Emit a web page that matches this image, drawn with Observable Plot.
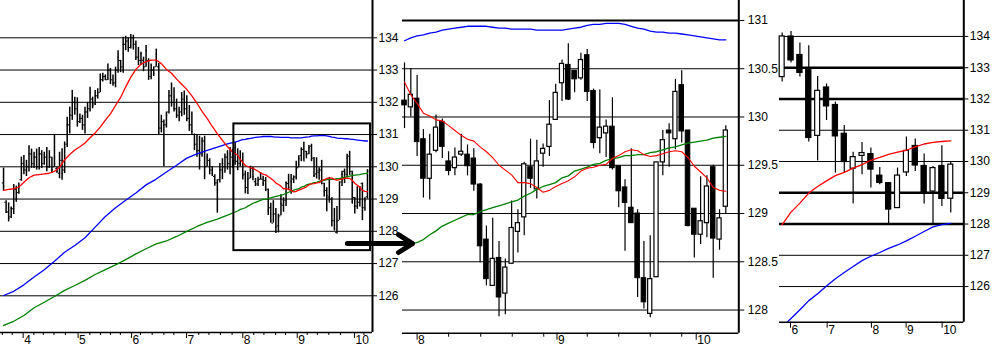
<!DOCTYPE html>
<html><head><meta charset="utf-8">
<script src="https://cdn.jsdelivr.net/npm/d3@7"></script>
<script src="https://cdn.jsdelivr.net/npm/@observablehq/plot@0.6"></script>
<style>
body{margin:0;background:#fff;}
#wrap{position:relative;width:997px;height:352px;overflow:hidden;background:#fff;}
#wrap svg{position:absolute;top:0;}
</style></head><body><div id="wrap"></div>
<script>
// ---------- DATA ----------
// Daily bars before the zoomed window, [open, high, low, close]
const earlyBars = [
[129.5,129.96,129.27,129.4],[128.9,128.95,128.55,128.6],[128.6,128.88,128.29,128.4],[128.45,128.75,128.40,128.7],
[128.7,129.45,128.52,129.3],[129.3,129.40,128.90,129.0],[129.2,129.50,129.15,129.4],[129.6,130.30,129.55,130.1],
[130.1,130.35,129.75,129.9],[129.9,130.20,129.70,130.0],[130.0,130.65,129.84,130.4],[130.4,130.55,129.95,130.1],
[130.1,130.45,129.95,130.3],[130.3,130.55,129.90,130.0],[130.0,130.60,129.90,130.4],[130.4,130.50,129.95,130.1],
[130.1,130.45,130.05,130.3],[130.3,130.60,129.85,130.0],[130.0,130.50,129.95,130.3],[130.3,130.30,129.80,129.9],
[130.0,130.97,129.99,130.1],[129.95,129.99,129.80,129.85],[129.8,130.45,129.63,130.2],[130.2,130.56,129.58,129.8],
[129.9,130.77,129.79,130.6],[130.7,131.54,130.60,131.3],[131.3,131.85,131.02,131.6],[131.6,132.37,131.44,132.1],
[132.0,132.16,131.60,131.8],[131.8,132.14,131.23,131.4],[131.4,131.64,131.34,131.5],[131.5,131.60,131.13,131.3],
[131.3,131.85,131.02,131.7],[131.7,132.00,131.50,131.8],[131.8,132.47,131.70,132.3],[132.1,132.16,131.80,131.9],
[131.95,132.37,131.90,132.2],[132.2,132.42,132.10,132.3],[132.3,132.88,132.30,132.7],[132.7,132.90,132.63,132.8],
[132.8,132.85,132.68,132.7],[132.7,133.19,132.68,133.0],[133.0,133.05,132.55,132.7],[132.7,132.85,132.50,132.6],
[132.6,133.09,132.45,133.0],[133.0,133.60,132.90,133.4],[133.3,133.30,132.92,133.1],[133.1,134.02,132.90,133.8],
[133.8,134.05,133.60,133.9],[133.9,134.00,133.55,133.7],[133.7,134.10,133.65,134.0],[134.0,134.08,133.62,133.8],
[133.8,133.90,133.30,133.4],[133.4,133.70,133.14,133.3],[133.3,133.55,133.14,133.5],[133.3,133.40,132.95,133.1],
[133.1,133.76,133.09,133.6],[133.3,133.35,132.68,132.8],[132.8,133.19,132.70,133.0],[133.0,133.10,132.80,132.9],
[133.1,133.65,133.09,133.5],[133.1,133.20,131.00,131.2],[131.2,131.60,131.05,131.4],[131.4,131.45,130.00,131.3],
[131.3,131.70,131.20,131.6],[131.7,132.37,131.64,132.2],[132.2,132.60,131.85,132.0],[132.0,132.45,131.70,131.8],
[131.8,132.10,131.50,131.6],[131.6,131.85,131.40,131.7],[131.7,132.30,131.55,132.1],[132.1,132.35,131.60,131.8],
[131.8,132.20,131.40,131.5],[131.5,131.90,131.10,131.3],[131.3,131.70,131.00,131.1],[131.0,131.02,130.50,130.7],
[130.7,131.00,130.30,130.5],[130.5,130.95,129.90,130.2],[130.4,130.90,130.30,130.8],[130.8,130.95,129.60,130.0],
[130.0,130.40,130.00,130.3],[130.2,130.25,129.75,129.9],[129.9,130.00,129.70,129.8],[129.7,129.75,129.40,129.5],
[129.5,129.60,128.56,129.3],[129.6,130.10,129.50,129.9],[129.9,130.25,129.60,130.1],[130.0,130.40,129.80,130.3],
[130.3,130.50,129.90,130.1],[130.1,130.60,129.75,130.4],[130.3,130.55,129.95,130.2],[130.2,130.75,130.05,130.6]
];
// Last 52 daily sessions (the zoomed window), [open, high, low, close]
const zoomBars = [
[130.17,130.56,129.88,130.12],[130.10,130.50,130.00,130.23],[130.19,130.43,129.59,129.74],[129.77,129.87,129.16,129.36],
[129.36,129.82,129.14,129.61],[129.65,130.02,129.63,129.89],[129.95,129.98,129.57,129.69],[129.54,129.64,129.39,129.44],
[129.47,129.68,129.39,129.58],[129.61,129.82,129.59,129.64],[129.61,129.71,129.39,129.49],[129.57,129.67,129.23,129.30],
[129.30,129.31,128.49,128.66],[128.73,128.87,128.25,128.32],[128.25,128.95,128.25,128.53],[128.54,128.71,127.93,128.13],
[128.17,128.53,127.95,128.44],[128.48,129.13,128.48,128.85],[128.81,129.04,128.59,128.90],[128.96,129.53,128.77,129.51],
[129.48,129.77,129.26,129.36],[129.25,129.76,129.15,129.54],[129.62,129.72,129.48,129.67],[129.69,130.17,129.59,129.92],
[129.97,130.34,129.97,130.25],[130.35,130.59,130.16,130.55],[130.54,130.76,130.17,130.18],[130.48,130.48,130.25,130.39],
[130.40,130.66,130.38,130.59],[130.64,130.70,130.16,130.26],[130.27,130.29,129.67,129.73],[129.78,130.28,129.62,129.89],
[129.83,129.97,129.58,129.90],[129.90,130.20,129.45,129.47],[129.49,129.49,129.06,129.23],[129.27,129.35,128.61,129.11],
[129.06,129.67,128.90,128.90],[129.00,129.04,128.13,128.33],[128.33,128.71,128.01,128.08],[127.96,128.77,127.92,128.32],
[128.34,129.53,128.34,129.53],[129.53,129.86,129.39,129.76],[129.86,129.93,129.48,129.83],[129.77,130.39,129.66,130.26],
[130.33,130.48,129.73,129.85],[129.86,129.86,128.86,128.87],[129.05,129.05,128.54,128.78],[128.78,129.38,128.68,128.92],
[128.90,129.39,128.75,129.28],[129.48,129.50,128.33,128.74],[128.73,129.04,128.62,128.95],[129.07,129.91,129.00,129.86]
];
// Weekly candles, [open, high, low, close]
const weekBars = [
[132.70,134.11,132.54,134.00],[134.00,134.16,133.15,133.23],[133.41,133.79,132.70,132.83],[132.93,133.70,130.62,130.75],
[130.82,132.72,130.02,132.26],[132.37,132.48,131.31,131.76],[131.81,131.90,129.63,130.80],[130.89,131.15,129.63,129.98],
[129.77,130.30,128.64,130.14],[130.18,130.61,129.58,130.27],[130.24,130.43,129.15,129.74],[129.55,129.81,129.26,129.31],
[129.31,129.31,127.98,128.46],[128.51,129.79,128.51,129.55],[129.65,130.78,129.52,130.34],[130.50,130.72,129.68,129.87],
[129.86,130.24,128.64,128.96],[129.04,129.84,127.98,129.79],[129.86,130.50,128.56,128.80],[128.81,129.98,128.35,129.90]
];
// Moving averages before the zoomed window (read every 2nd / 4th session)
const redEarlyStep = 2;
const redEarly = [129.27,129.30,129.32,129.37,129.52,129.66,129.74,129.76,129.78,129.80,129.86,129.98,130.22,130.38,130.52,130.62,
130.74,130.90,131.05,131.23,131.45,131.64,131.90,132.15,132.48,132.78,133.02,133.18,133.26,133.31,133.31,133.20,133.02,132.90,
132.72,132.56,132.40,132.20,131.97,131.72,131.50,131.25,131.03,130.82,130.62,130.46];
const longEarlyStep = 4;
const blueEarly = [126.01,126.14,126.34,126.58,126.81,127.07,127.35,127.56,127.80,128.13,128.46,128.73,128.96,129.19,129.44,129.62,
129.84,130.05,130.27,130.40,130.51,130.61,130.71];
const greenEarly = [125.08,125.21,125.39,125.63,125.80,125.98,126.17,126.32,126.48,126.66,126.81,126.96,127.12,127.30,127.46,127.61,
127.70,127.84,128.00,128.15,128.28,128.38,128.50];
// Moving averages inside the zoomed window (one per session)
const red2 = [130.36,130.23,130.14,130.04,130.01,129.97,129.96,129.91,129.86,129.81,129.77,129.75,129.69,129.64,129.58,129.50,129.45,
129.40,129.32,129.32,129.31,129.27,129.22,129.24,129.28,129.31,129.34,129.38,129.44,129.47,129.48,129.50,129.51,129.57,129.60,129.64,
129.66,129.65,129.61,129.59,129.60,129.62,129.64,129.65,129.64,129.58,129.49,129.43,129.37,129.27,129.24,129.23];
const green2 = [128.63,128.68,128.70,128.73,128.78,128.82,128.87,128.90,128.93,128.96,128.99,128.99,129.02,129.04,129.06,129.08,129.10,
129.12,129.14,129.18,129.21,129.25,129.28,129.30,129.32,129.37,129.39,129.44,129.46,129.48,129.51,129.52,129.55,129.57,129.58,129.60,
129.60,129.61,129.61,129.63,129.64,129.66,129.68,129.69,129.71,129.73,129.74,129.75,129.76,129.78,129.79,129.80];
const blue2 = [130.79,130.82,130.84,130.85,130.87,130.88,130.90,130.91,130.92,130.93,130.94,130.94,130.94,130.94,130.93,130.92,130.92,
130.91,130.91,130.91,130.91,130.90,130.90,130.90,130.90,130.90,130.91,130.92,130.93,130.95,130.96,130.96,130.97,130.97,130.97,130.96,
130.94,130.92,130.91,130.89,130.88,130.88,130.87,130.87,130.86,130.85,130.84,130.83,130.82,130.81,130.80,130.80];
// Weekly moving averages
const red3 = [127.98,128.38,128.67,128.99,129.20,129.38,129.55,129.65,129.79,129.90,130.04,130.13,130.23,130.30,130.36,130.47,130.56,130.61,130.64,130.66];
const blue3 = [124.71,124.98,125.26,125.55,125.77,126.02,126.25,126.45,126.64,126.83,126.97,127.09,127.22,127.33,127.46,127.61,127.76,127.91,127.98,128.02];

// Axis ticks and labels
const yTicks1 = [126,127,128,129,130,131,132,133,134];
const yTicks2 = [128,128.5,129,129.5,130,130.5,131];
const yTicks3 = [126,127,128,129,130,131,132,133,134];
const thickGrid2 = [131];
const thickGrid3 = [128,129,132,133];
const monthTicks1 = [7.7,29.3,50.3,71.9,94,115.4,137.9];
const monthLabels1 = ["4","5","6","7","8","9","10"];
const minorTicks1 = [-0.5,3.4,11.9,15.6,19.8,24.3,33.9,38.1,42.0,45.9,53.8,58.4,63.0,66.9,76.7,80.7,85.2,89.8,98.3,102.3,106.9,110.8,119.3,123.3,127.8,132.4,141.6];
const monthTicks2 = [2.0,24.2,46.3];
const monthLabels2 = ["8","9","10"];
const minorTicks2 = [7.0,12.1,17.1,22.1,29.0,34.0,39.0,44.0];
const monthTicks3 = [0.94,5.07,10.06,13.97,18.03];
const monthLabels3 = ["6","7","8","9","10"];
// Annotation: zoom box around the last 52 sessions and the arrow to the zoomed panel
const zoomBox = [{x1: 90.5, x2: 144.2, y1: 127.40, y2: 131.33}];
const zoomArrow = [{x1: 135.1, x2: 160.7, y: 127.62}];

// ---------- BUILD ----------
const FONT = "'Liberation Sans', Arial, sans-serif";
const wrap = document.getElementById("wrap");
const row = b => ({o: b[0], h: b[1], l: b[2], c: b[3]});
const zoomStart = earlyBars.length;
const daily = [...earlyBars, ...zoomBars].map((b, k) => ({k, ...row(b)}));
const zoom = zoomBars.map((b, i) => ({i, ...row(b)}));
const week = weekBars.map((b, i) => ({i, ...row(b)}));
const red1 = [...redEarly.map((v, j) => ({k: j * redEarlyStep, v})), ...red2.map((v, i) => ({k: zoomStart + i, v}))];
const blue1 = [...blueEarly.map((v, j) => ({k: j * longEarlyStep, v})), ...blue2.map((v, i) => ({k: zoomStart + i, v}))];
const green1 = [...greenEarly.map((v, j) => ({k: j * longEarlyStep, v})), ...green2.map((v, i) => ({k: zoomStart + i, v}))];
const ser = arr => arr.map((v, i) => ({i, v}));

const baseStyle = {background: "transparent", overflow: "visible", fontFamily: FONT, fontSize: "12px", color: "#000"};

function xTickMarks(monthTicks, monthLabels, minorTicks, majorLen, minorLen, labelDy) {
  return [
    Plot.axisX({ticks: monthTicks, tickSize: majorLen, tickFormat: () => "", label: null, strokeWidth: 1}),
    Plot.axisX({ticks: minorTicks, tickSize: minorLen, tickFormat: () => "", label: null, strokeWidth: 1}),
    Plot.text(monthTicks, {x: d => d, text: (d, i) => monthLabels[i], frameAnchor: "bottom", dy: labelDy, dx: 1, textAnchor: "start", fontSize: 12, fill: "#000"})
  ];
}

// Panel 1: daily OHLC
const xd1 = [-1.2, 144.97], yd1 = [124.862, 135.157];
const p1 = Plot.plot({
  width: 402, height: 352, marginLeft: 0, marginRight: 30, marginTop: 0, marginBottom: 20,
  style: baseStyle,
  x: {domain: xd1, label: null}, y: {domain: yd1, label: null},
  marks: [
    Plot.ruleY(yTicks1, {stroke: "#000", strokeWidth: 1}),
    Plot.ruleX(daily, {x: "k", y1: "l", y2: "h", stroke: "#000", strokeWidth: 1.5}),
    Plot.ruleY(daily, {y: "o", x1: d => d.k - 0.5, x2: "k", stroke: "#000", strokeWidth: 1}),
    Plot.ruleY(daily, {y: "c", x1: "k", x2: d => d.k + 0.5, stroke: "#000", strokeWidth: 1}),
    Plot.line(green1, {x: "k", y: "v", stroke: "#008000", strokeWidth: 1.3}),
    Plot.line(blue1, {x: "k", y: "v", stroke: "#0000ff", strokeWidth: 1.3}),
    Plot.line(red1, {x: "k", y: "v", stroke: "#ff0000", strokeWidth: 1.3}),
    Plot.rect(zoomBox, {x1: "x1", x2: "x2", y1: "y1", y2: "y2", fill: "none", stroke: "#000", strokeWidth: 2}),
    Plot.ruleX([xd1[1]], {stroke: "#000", strokeWidth: 2}),
    Plot.ruleY([yd1[0]], {stroke: "#000", strokeWidth: 1.5}),
    Plot.axisY({anchor: "right", ticks: yTicks1, tickSize: 4, tickPadding: 2, fontSize: 12, label: null}),
    ...xTickMarks(monthTicks1, monthLabels1, minorTicks1, 6, 3, 11),
    Plot.arrow(zoomArrow, {x1: "x1", x2: "x2", y1: "y", y2: "y", stroke: "#000", strokeWidth: 5, headLength: 5, headAngle: 65})
  ]
});
p1.style.left = "0px";

// Panel 2: zoomed daily candles
const xd2 = [-0.32, 53.06], yd2 = [127.76, 131.207];
const p2 = Plot.plot({
  width: 380, height: 352, marginLeft: 0, marginRight: 43.7, marginTop: 0, marginBottom: 19.3,
  style: baseStyle,
  x: {domain: xd2, label: null}, y: {domain: yd2, label: null},
  marks: [
    Plot.ruleY(yTicks2, {stroke: "#000", strokeWidth: d => thickGrid2.includes(d) ? 2.2 : 1}),
    Plot.ruleX(zoom, {x: "i", y1: "l", y2: "h", stroke: "#000", strokeWidth: 1.2}),
    Plot.rect(zoom.filter(d => d.c < d.o), {x1: d => d.i - 0.36, x2: d => d.i + 0.36, y1: "o", y2: "c", fill: "#000", stroke: "#000", strokeWidth: 1}),
    Plot.rect(zoom.filter(d => d.c >= d.o), {x1: d => d.i - 0.33, x2: d => d.i + 0.33, y1: "o", y2: "c", fill: "#fff", stroke: "#000", strokeWidth: 1.2}),
    Plot.line(ser(green2), {x: "i", y: "v", stroke: "#008000", strokeWidth: 1.3}),
    Plot.line(ser(blue2), {x: "i", y: "v", stroke: "#0000ff", strokeWidth: 1.3}),
    Plot.line(ser(red2), {x: "i", y: "v", stroke: "#ff0000", strokeWidth: 1.1}),
    Plot.ruleX([xd2[1]], {stroke: "#000", strokeWidth: 2}),
    Plot.ruleY([yd2[0]], {stroke: "#000", strokeWidth: 1.5}),
    Plot.axisY({anchor: "right", ticks: yTicks2, tickSize: 5, tickPadding: 4, fontSize: 12, label: null, tickFormat: d => String(d)}),
    ...xTickMarks(monthTicks2, monthLabels2, minorTicks2, 7, 4, 11)
  ]
});
p2.style.left = "402px";

// Panel 3: weekly candles
const xd3 = [-0.30, 20.47], yd3 = [124.86, 135.15];
const p3 = Plot.plot({
  width: 218, height: 352, marginLeft: 0, marginRight: 33.7, marginTop: 0, marginBottom: 30.3,
  style: baseStyle,
  x: {domain: xd3, label: null}, y: {domain: yd3, label: null},
  marks: [
    Plot.ruleY(yTicks3, {stroke: "#000", strokeWidth: d => thickGrid3.includes(d) ? 2.5 : 1}),
    Plot.ruleX(week, {x: "i", y1: "l", y2: "h", stroke: "#000", strokeWidth: 1.2}),
    Plot.rect(week.filter(d => d.c < d.o), {x1: d => d.i - 0.3, x2: d => d.i + 0.3, y1: "o", y2: "c", fill: "#000", stroke: "#000", strokeWidth: 1}),
    Plot.rect(week.filter(d => d.c >= d.o), {x1: d => d.i - 0.28, x2: d => d.i + 0.28, y1: "o", y2: "c", fill: "#fff", stroke: "#000", strokeWidth: 1.2}),
    Plot.line(ser(red3), {x: "i", y: "v", stroke: "#ff0000", strokeWidth: 1.3}),
    Plot.line(ser(blue3), {x: "i", y: "v", stroke: "#0000ff", strokeWidth: 1.3, clip: true}),
    Plot.ruleX([xd3[1]], {stroke: "#000", strokeWidth: 2}),
    Plot.ruleY([yd3[0]], {stroke: "#000", strokeWidth: 1.5}),
    Plot.axisY({anchor: "right", ticks: yTicks3, tickSize: 4, tickPadding: 2, fontSize: 12, label: null}),
    ...xTickMarks(monthTicks3, monthLabels3, [], 6, 3, 12)
  ]
});
p3.style.left = "779px";

wrap.appendChild(p3);
wrap.appendChild(p2);
wrap.appendChild(p1);
</script>
</body></html>
